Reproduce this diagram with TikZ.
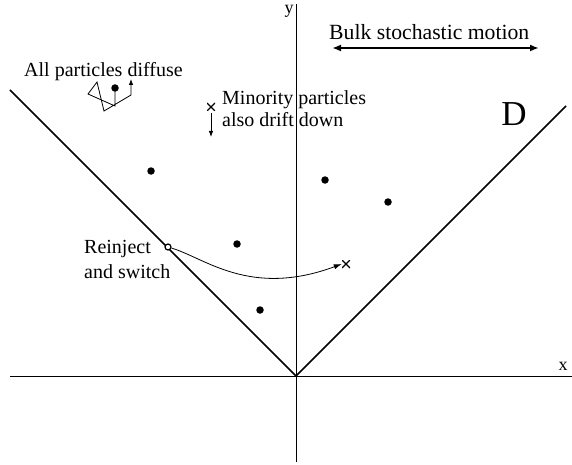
\documentclass[tikz,border=0pt]{standalone}
\usepackage{fontspec}
\setmainfont{Liberation Serif}
\usetikzlibrary{arrows.meta}
\begin{document}
\begin{tikzpicture}[x=1pt,y=-1pt,
  lbl/.style={inner sep=0pt,anchor=base west,font=\fontsize{20}{24}\selectfont},
  dotn/.style={circle,fill=black,inner sep=0pt,minimum size=7.5pt},
  cross/.style={draw=none,inner sep=0pt,minimum size=8pt,path picture={\draw[line width=1.3pt] (path picture bounding box.north west)--(path picture bounding box.south east) (path picture bounding box.north east)--(path picture bounding box.south west);}},
  axis/.style={line width=0.8pt},
  wall/.style={line width=1.6pt},
  thin/.style={line width=0.8pt}]
\useasboundingbox (0,0) rectangle (572,465);
% axes
\coordinate (O) at (296,376);
\coordinate (xl) at (10,376);
\coordinate (xr) at (572,376);
\coordinate (yt) at (296,4);
\coordinate (yb) at (296,462);
\draw[axis] (xl) -- (xr);
\draw[axis] (yt) -- (yb);
\node[inner sep=0pt,font=\fontsize{18}{20}\selectfont] (xlab) at (563,366) {x};
\node[inner sep=0pt,font=\fontsize{18}{20}\selectfont] (ylab) at (289,11) {y};
% walls
\coordinate (wl) at (10,90);
\coordinate (wr) at (566,106);
\draw[wall] (wl) -- (O) -- (wr);
\node[inner sep=0pt,anchor=base,font=\fontsize{35}{40}\selectfont] (D) at (514,126) {D};
% bulk
\node[lbl,font=\fontsize{21.7}{24}\selectfont] (bulk) at (329,40) {Bulk stochastic motion};
\coordinate (ba) at (332,48);
\coordinate (bb) at (539,48);
\draw[line width=2.4pt,{Latex[length=9pt,width=7pt]}-{Latex[length=9pt,width=7pt]}] (ba) -- (bb);
% dots
\node[dotn] (d1) at (115,88) {};
\node[dotn] (d2) at (151,171) {};
\node[dotn] (d3) at (237,244) {};
\node[dotn] (d4) at (260,310) {};
\node[dotn] (d5) at (325,180) {};
\node[dotn] (d6) at (388,202) {};
% diffuse
\node[lbl] (diff) at (24,77) {All particles diffuse};
\coordinate (p1) at (115,106);
\coordinate (p2) at (88,94);
\coordinate (p3) at (97,82);
\coordinate (p4) at (104,111);
\coordinate (p5) at (131,95);
\coordinate (p6) at (131,79);
\draw[thin,-{Latex[length=6pt,width=4.5pt]}] (d1.center) -- (p1) -- (p2) -- (p3) -- (p4) -- (p5) -- (p6);
% minority
\node[cross] (m1) at (211,107) {};
\coordinate (m2) at (211,137);
\draw[thin,-{Latex[length=6pt,width=4.5pt]}] (m1.south) ++(0,2) -- (m2);
\node[lbl] (min1) at (222,105) {Minority particles};
\node[lbl] (min2) at (222,127) {also drift down};
% reinject
\node[circle,draw,line width=1.2pt,fill=white,inner sep=0pt,minimum size=6pt] (r) at (168,247) {};
\node[cross] (rx) at (346,264) {};
\draw[thin,-{Latex[length=8pt,width=5pt]}] (r) .. controls (205,258) and (250,298) .. (rx.west);
\node[lbl] (re1) at (84,253) {Reinject};
\node[lbl] (re2) at (84,278) {and switch};
\end{tikzpicture}
\end{document}
